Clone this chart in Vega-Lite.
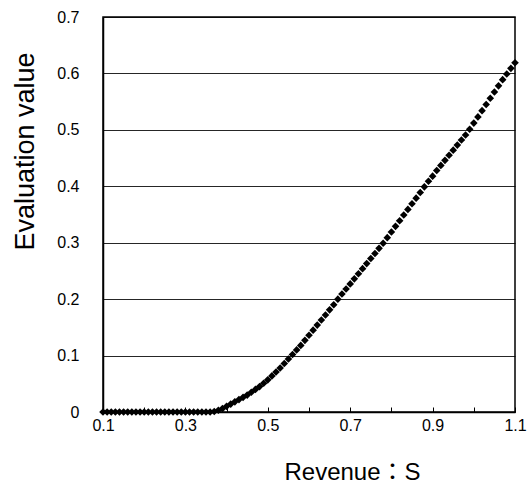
{
  "$schema": "https://vega.github.io/schema/vega-lite/v6.json",
  "autosize": "none",
  "width": 412,
  "height": 395,
  "padding": {"left": 103, "top": 17, "right": 12, "bottom": 79},
  "background": "white",
  "config": {
    "view": {"stroke": "black", "strokeWidth": 1.5},
    "font": "Liberation Sans"
  },
  "data": {"values": [
    {"x":0.10,"y":0},{"x":0.11,"y":0},{"x":0.12,"y":0},{"x":0.13,"y":0},{"x":0.14,"y":0},
    {"x":0.15,"y":0},{"x":0.16,"y":0},{"x":0.17,"y":0},{"x":0.18,"y":0},{"x":0.19,"y":0},
    {"x":0.20,"y":0},{"x":0.21,"y":0},{"x":0.22,"y":0},{"x":0.23,"y":0},{"x":0.24,"y":0},
    {"x":0.25,"y":0},{"x":0.26,"y":0},{"x":0.27,"y":0},{"x":0.28,"y":0},{"x":0.29,"y":0},
    {"x":0.30,"y":0},{"x":0.31,"y":0},{"x":0.32,"y":0},{"x":0.33,"y":0},{"x":0.34,"y":0},
    {"x":0.35,"y":0},{"x":0.36,"y":0},{"x":0.37,"y":0.001},{"x":0.38,"y":0.003},{"x":0.39,"y":0.006},
    {"x":0.40,"y":0.010},{"x":0.41,"y":0.014},{"x":0.42,"y":0.018},{"x":0.43,"y":0.022},{"x":0.44,"y":0.026},
    {"x":0.45,"y":0.030},{"x":0.46,"y":0.035},{"x":0.47,"y":0.040},{"x":0.48,"y":0.045},{"x":0.49,"y":0.051},
    {"x":0.50,"y":0.057},{"x":0.51,"y":0.064},{"x":0.52,"y":0.071},{"x":0.53,"y":0.078},{"x":0.54,"y":0.086},
    {"x":0.55,"y":0.094},{"x":0.56,"y":0.102},{"x":0.57,"y":0.110},{"x":0.58,"y":0.118},{"x":0.59,"y":0.127},
    {"x":0.60,"y":0.136},{"x":0.61,"y":0.145},{"x":0.62,"y":0.154},{"x":0.63,"y":0.163},{"x":0.64,"y":0.172},
    {"x":0.65,"y":0.181},{"x":0.66,"y":0.190},{"x":0.67,"y":0.200},{"x":0.68,"y":0.209},{"x":0.69,"y":0.218},
    {"x":0.70,"y":0.227},{"x":0.71,"y":0.236},{"x":0.72,"y":0.245},{"x":0.73,"y":0.254},{"x":0.74,"y":0.263},
    {"x":0.75,"y":0.272},{"x":0.76,"y":0.281},{"x":0.77,"y":0.290},{"x":0.78,"y":0.299},{"x":0.79,"y":0.309},
    {"x":0.80,"y":0.319},{"x":0.81,"y":0.329},{"x":0.82,"y":0.339},{"x":0.83,"y":0.349},{"x":0.84,"y":0.359},
    {"x":0.85,"y":0.369},{"x":0.86,"y":0.379},{"x":0.87,"y":0.389},{"x":0.88,"y":0.399},{"x":0.89,"y":0.409},
    {"x":0.90,"y":0.418},{"x":0.91,"y":0.428},{"x":0.92,"y":0.437},{"x":0.93,"y":0.446},{"x":0.94,"y":0.455},
    {"x":0.95,"y":0.464},{"x":0.96,"y":0.473},{"x":0.97,"y":0.482},{"x":0.98,"y":0.491},{"x":0.99,"y":0.501},
    {"x":1.00,"y":0.512},{"x":1.01,"y":0.523},{"x":1.02,"y":0.534},{"x":1.03,"y":0.545},{"x":1.04,"y":0.556},
    {"x":1.05,"y":0.567},{"x":1.06,"y":0.578},{"x":1.07,"y":0.589},{"x":1.08,"y":0.599},{"x":1.09,"y":0.609},
    {"x":1.10,"y":0.619}
  ]},
  "mark": {"type": "point", "shape": "diamond", "filled": true, "color": "black", "size": 58, "opacity": 1},
  "encoding": {
    "x": {
      "field": "x", "type": "quantitative",
      "scale": {"domain": [0.1, 1.1], "nice": false, "zero": false},
      "axis": {
        "title": "Revenue：S",
        "titleFont": "Liberation Sans, Noto Sans CJK JP",
        "titleFontSize": 24, "titleFontWeight": "normal", "titleColor": "black",
        "titleX": 249, "titleY": 67, "titleBaseline": "alphabetic", "titleAnchor": "middle", "titleAlign": "center",
        "values": [0.1,0.2,0.3,0.4,0.5,0.6,0.7,0.8,0.9,1.0,1.1],
        "format": ".1f",
        "labelExpr": "indexof(['0.1','0.3','0.5','0.7','0.9','1.1'], datum.label) >= 0 ? datum.label : ''",
        "labelFontSize": 16, "labelColor": "black", "labelPadding": 10, "labelFlush": false,
        "tickSize": -5, "tickColor": "black", "tickWidth": 1,
        "domainColor": "black", "domainWidth": 1.5,
        "grid": false
      }
    },
    "y": {
      "field": "y", "type": "quantitative",
      "scale": {"domain": [0, 0.7], "nice": false},
      "axis": {
        "title": "Evaluation value",
        "titleFontSize": 27, "titleFontWeight": "normal", "titleColor": "black",
        "titleX": -70, "titleY": 134, "titleBaseline": "alphabetic", "titleAnchor": "middle", "titleAlign": "center",
        "values": [0,0.1,0.2,0.3,0.4,0.5,0.6,0.7],
        "format": "~g",
        "labelFontSize": 16, "labelColor": "black", "labelPadding": 24, "labelFlush": false,
        "ticks": false,
        "domainColor": "black", "domainWidth": 1.5,
        "grid": true, "gridColor": "black", "gridWidth": 1, "gridOpacity": 0.85
      }
    }
  }
}
